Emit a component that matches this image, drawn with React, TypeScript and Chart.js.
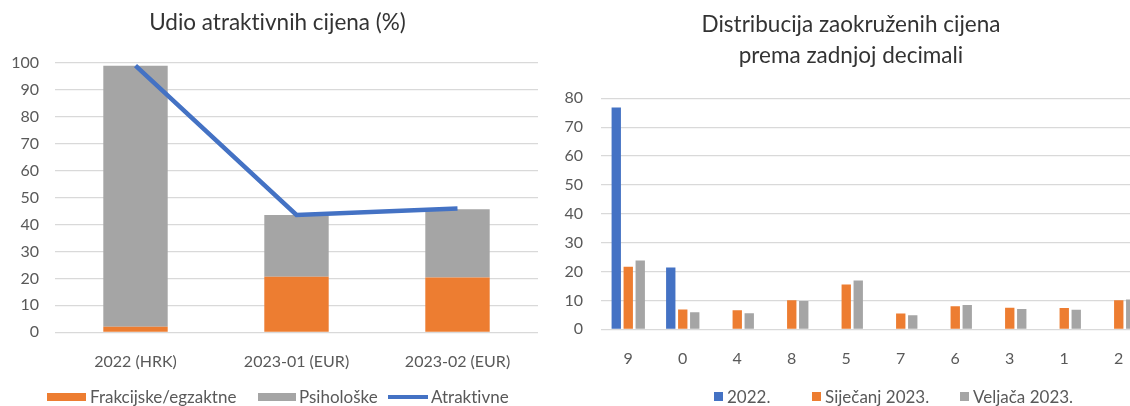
import React, { useEffect, useRef } from "react";
import { Chart, registerables } from "chart.js";

Chart.register(...registerables);

// ---------- Data ----------
const shareCategories = ["2022 (HRK)", "2023-01 (EUR)", "2023-02 (EUR)"];
const fractionalValues = [2.1, 20.6, 20.3];
const psychologicalValues = [96.8, 22.9, 25.3];
const attractiveValues = [98.9, 43.5, 45.9];
const shareTicks = [0, 10, 20, 30, 40, 50, 60, 70, 80, 90, 100];

const digitCategories = ["9", "0", "4", "8", "5", "7", "6", "3", "1", "2"];
const values2022 = [76.8, 21.4, null, null, null, null, null, null, null, null];
const valuesJan2023 = [21.7, 6.9, 6.6, 10.1, 15.5, 5.5, 8.0, 7.5, 7.4, 10.1];
const valuesFeb2023 = [23.8, 5.9, 5.6, 9.8, 16.9, 4.9, 8.4, 7.0, 6.8, 10.3];
const digitTicks = [0, 10, 20, 30, 40, 50, 60, 70, 80];

const seriesNamesLeft = ["Frakcijske/egzaktne", "Psihološke", "Atraktivne"];
const seriesNamesRight = ["2022.", "Siječanj 2023.", "Veljača 2023."];
const titleLeft = "Udio atraktivnih cijena (%)";
const titleRight = ["Distribucija zaokruženih cijena", "prema zadnjoj decimali"];

// ---------- Styles ----------
const BLUE = "#4472C4";
const ORANGE = "#ED7D31";
const GRAY = "#A5A5A5";
const GRID = "#D9D9D9";
const TICK = "#595959";
const FONT = "Lato, 'Noto Sans', sans-serif";

function LeftChart() {
  const ref = useRef<HTMLCanvasElement | null>(null);
  useEffect(() => {
    if (!ref.current) return;
    const chart = new Chart(ref.current, {
      type: "bar",
      data: {
        labels: shareCategories,
        datasets: [
          {
            type: "line",
            label: seriesNamesLeft[2],
            data: attractiveValues,
            borderColor: BLUE,
            backgroundColor: BLUE,
            borderWidth: 4.5,
            pointRadius: 0,
            tension: 0,
            stack: "line",
            order: 0,
          } as any,
          {
            label: seriesNamesLeft[0],
            data: fractionalValues,
            backgroundColor: ORANGE,
            stack: "bars",
            order: 1,
          },
          {
            label: seriesNamesLeft[1],
            data: psychologicalValues,
            backgroundColor: GRAY,
            stack: "bars",
            order: 1,
          },
        ],
      },
      options: {
        responsive: false,
        animation: false,
        devicePixelRatio: 1,
        layout: { padding: { left: 0, top: 62.7, right: 17, bottom: 23.7 } },
        plugins: { legend: { display: false }, title: { display: false }, tooltip: { enabled: false } },
        datasets: { bar: { categoryPercentage: 1, barPercentage: 0.4 } },
        scales: {
          x: {
            stacked: true,
            grid: { display: false },
            border: { display: false },
            ticks: { color: TICK, font: { family: FONT, size: 16 }, padding: 12 },
            afterFit: (s: any) => {
              s.height = 50;
            },
          },
          y: {
            stacked: true,
            min: 0,
            max: 100,
            afterBuildTicks: (s: any) => {
              s.ticks = shareTicks.map((v) => ({ value: v }));
            },
            grid: { color: GRID, lineWidth: 1.2, drawTicks: false },
            border: { display: false },
            ticks: { color: TICK, font: { family: FONT, size: 16 }, padding: 16 },
            afterFit: (s: any) => {
              s.width = 55;
            },
          },
        },
      },
    });
    return () => chart.destroy();
  }, []);
  return <canvas ref={ref} width={555} height={406} style={{ position: "absolute", left: 0, top: 0, width: 555, height: 406 }} />;
}

function RightChart() {
  const ref = useRef<HTMLCanvasElement | null>(null);
  useEffect(() => {
    if (!ref.current) return;
    const chart = new Chart(ref.current, {
      type: "bar",
      data: {
        labels: digitCategories,
        datasets: [
          { label: seriesNamesRight[0], data: values2022, backgroundColor: BLUE },
          { label: seriesNamesRight[1], data: valuesJan2023, backgroundColor: ORANGE },
          { label: seriesNamesRight[2], data: valuesFeb2023, backgroundColor: GRAY },
        ],
      },
      options: {
        responsive: false,
        animation: false,
        devicePixelRatio: 1,
        layout: { padding: { left: 0, top: 98.3, right: 29, bottom: 26.7 } },
        plugins: { legend: { display: false }, title: { display: false }, tooltip: { enabled: false } },
        datasets: { bar: { categoryPercentage: 0.66, barPercentage: 0.78 } },
        scales: {
          x: {
            grid: { display: false },
            border: { display: false },
            ticks: { color: TICK, font: { family: FONT, size: 16 }, padding: 12 },
            afterFit: (s: any) => {
              s.height = 50;
            },
          },
          y: {
            min: 0,
            max: 80,
            afterBuildTicks: (s: any) => {
              s.ticks = digitTicks.map((v) => ({ value: v }));
            },
            grid: { color: GRID, lineWidth: 1.2, drawTicks: false },
            border: { display: false },
            ticks: { color: TICK, font: { family: FONT, size: 16 }, padding: 18 },
            afterFit: (s: any) => {
              s.width = 46;
            },
          },
        },
      },
    });
    return () => chart.destroy();
  }, []);
  return <canvas ref={ref} width={620} height={406} style={{ position: "absolute", left: 555, top: 0, width: 620, height: 406 }} />;
}

const noLig: React.CSSProperties = {
  fontVariantLigatures: "none",
  fontFeatureSettings: '"liga" 0, "clig" 0',
};

const titleStyle: React.CSSProperties = {
  position: "absolute",
  fontFamily: FONT,
  fontSize: 22.5,
  color: "#333333",
  textAlign: "center",
  lineHeight: "31px",
  whiteSpace: "nowrap",
  ...noLig,
};

const legendText: React.CSSProperties = {
  position: "absolute",
  fontFamily: FONT,
  fontSize: 17,
  color: TICK,
  top: 386,
  lineHeight: "22px",
  whiteSpace: "nowrap",
  ...noLig,
};

function Box({ left, top, w, h, color }: { left: number; top: number; w: number; h: number; color: string }) {
  return <div style={{ position: "absolute", left, top, width: w, height: h, background: color }} />;
}

export default function App() {
  return (
    <div style={{ position: "fixed", left: 0, top: 0, width: 1130, height: 406, overflow: "hidden", background: "#fff" }}>
      <LeftChart />
      <RightChart />
      <div style={{ ...titleStyle, left: 0, width: 555, top: 6 }}>{titleLeft}</div>
      <div style={{ ...titleStyle, left: 555, width: 592, top: 8 }}>
        {titleRight[0]}
        <br />
        {titleRight[1]}
      </div>

      {/* Left legend */}
      <Box left={47} top={393} w={39} h={8} color={ORANGE} />
      <div style={{ ...legendText, left: 90 }}>{seriesNamesLeft[0]}</div>
      <Box left={258} top={393} w={38} h={8} color={GRAY} />
      <div style={{ ...legendText, left: 299 }}>{seriesNamesLeft[1]}</div>
      <Box left={388} top={395} w={40} h={4} color={BLUE} />
      <div style={{ ...legendText, left: 431 }}>{seriesNamesLeft[2]}</div>

      {/* Right legend */}
      <Box left={714} top={392} w={9} h={9} color={BLUE} />
      <div style={{ ...legendText, left: 727 }}>{seriesNamesRight[0]}</div>
      <Box left={812} top={392} w={9} h={9} color={ORANGE} />
      <div style={{ ...legendText, left: 825 }}>{seriesNamesRight[1]}</div>
      <Box left={960} top={392} w={9} h={9} color={GRAY} />
      <div style={{ ...legendText, left: 973 }}>{seriesNamesRight[2]}</div>
    </div>
  );
}
